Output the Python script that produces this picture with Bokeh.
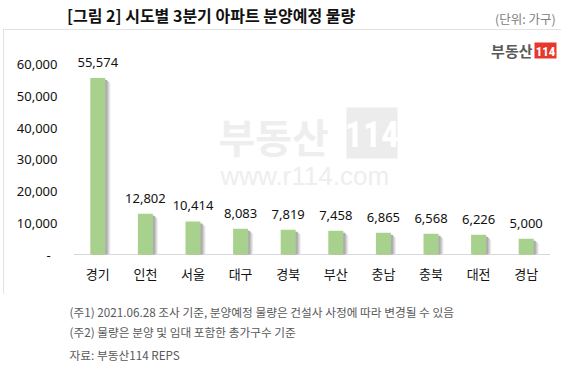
from bokeh.plotting import figure
from bokeh.layouts import column
from bokeh.models import (ColumnDataSource, LabelSet, Label, BoxAnnotation,
                          NumeralTickFormatter, FixedTicker, FactorRange)
from bokeh.core.properties import value
from bokeh.transform import dodge
from bokeh.embed import file_html
from bokeh.resources import INLINE

# ---- data ----
categories = ["경기", "인천", "서울", "대구", "경북", "부산", "충남", "충북", "대전", "경남"]
values = [55574, 12802, 10414, 8083, 7819, 7458, 6865, 6568, 6226, 5000]
value_labels = ["55,574", "12,802", "10,414", "8,083", "7,819", "7,458", "6,865", "6,568", "6,226", "5,000"]
y_ticks = [0, 10000, 20000, 30000, 40000, 50000, 60000]

title_text = "[그림 2] 시도별 3분기 아파트 분양예정 물량"
unit_text = "(단위: 가구)"
notes = ["(주1) 2021.06.28 조사 기준, 분양예정 물량은 건설사 사정에 따라 변경될 수 있음",
         "(주2) 물량은 분양 및 임대 포함한 총가구수 기준",
         "자료: 부동산114 REPS"]

KR = "Noto Sans CJK KR"
NUM = "Noto Sans"


def blank_fig(w, h):
    f = figure(width=w, height=h, x_range=(0, w), y_range=(h, 0),
               output_backend="svg", toolbar_location=None, title=None,
               x_axis_location=None, y_axis_location=None, min_border=0)
    f.background_fill_color = "white"
    f.border_fill_color = "white"
    f.outline_line_color = None
    f.grid.visible = False
    return f


# ---- header ----
head = blank_fig(567, 29)
head.text(x=[5], y=[14], text=[title_text], text_font=value(KR), text_font_style="bold",
          text_font_size="16px", text_color="#111111", text_baseline="middle")
head.text(x=[557], y=[18], text=[unit_text], text_font=value(KR), text_font_size="12.5px",
          text_color="#808080", text_align="right", text_baseline="middle")

# ---- chart ----
CW, CH = 558, 265
px10k = 31.75
src = ColumnDataSource(dict(cat=categories, val=values, lab=value_labels))

xr = FactorRange(*categories, range_padding=0.1785 * 2 / len(categories), range_padding_units="percent")
p = figure(width=CW, height=CH, x_range=xr, y_range=(-10000 / px10k, 221 / px10k * 10000),
           output_backend="svg", toolbar_location=None, title=None,
           min_border_left=62, min_border_right=3, min_border_top=4, min_border_bottom=39,
           margin=(0, 0, 0, 3))
p.styles = {"outline": "1px solid #d9d9d9", "outline-offset": "-1px"}
p.background_fill_color = "white"
p.border_fill_color = "white"
p.outline_line_color = None
p.xgrid.grid_line_color = None
p.ygrid.grid_line_color = None

# watermark
p.add_layout(Label(x=215, y=106, x_units="canvas", y_units="canvas", text="부동산",
                   text_font=KR, text_font_style="bold", text_font_size="40px",
                   text_color="#eeeeee", text_baseline="middle", level="underlay"))
p.add_layout(BoxAnnotation(left=343, right=394, top=78, bottom=129,
                           left_units="canvas", right_units="canvas",
                           top_units="canvas", bottom_units="canvas",
                           fill_color="#ececec", fill_alpha=1, line_color=None, level="underlay"))
p.add_layout(Label(x=368.5, y=104, x_units="canvas", y_units="canvas", text="114",
                   text_font="Roboto Condensed", text_font_style="bold", text_font_size="36px",
                   text_color="white", text_align="center", text_baseline="middle", level="underlay"))
p.add_layout(Label(x=217, y=146, x_units="canvas", y_units="canvas", text="www.r114.com",
                   text_font="Liberation Sans", text_font_size="26px",
                   text_color="#eeeeee", text_baseline="middle", level="underlay"))

# logo
p.add_layout(Label(x=529, y=21, x_units="canvas", y_units="canvas", text="부동산",
                   text_font=KR, text_font_style="bold", text_font_size="15px",
                   text_color="#5a5a5a", text_align="right", text_baseline="middle"))
p.add_layout(BoxAnnotation(left=531, right=553, top=13, bottom=29,
                           left_units="canvas", right_units="canvas",
                           top_units="canvas", bottom_units="canvas",
                           fill_color="#e8382b", fill_alpha=1, line_color=None))
p.add_layout(Label(x=542, y=21.5, x_units="canvas", y_units="canvas", text="114",
                   text_font="Roboto Condensed", text_font_style="bold", text_font_size="13px",
                   text_color="white", text_align="center", text_baseline="middle"))

# baseline
p.line(x=[0, len(categories)], y=[0, 0], line_color="#d9d9d9", line_width=1)

# bars with soft shadow
bw = 15 / 47.6
for off_px, col in [(5, "#ececec"), (4, "#d9d9d9"), (3, "#c4c4c4"), (2, "#adadad")]:
    s = ColumnDataSource(dict(cat=categories, top=[v - off_px / px10k * 10000 for v in values]))
    p.vbar(x=dodge("cat", off_px / 47.6, range=p.x_range), top="top", width=bw,
           source=s, fill_color=col, line_color=None)
p.vbar(x="cat", top="val", width=bw, source=src, fill_color="#a9d18e", line_color=None)

p.add_layout(LabelSet(x="cat", y="val", text="lab", source=src, y_offset=11,
                      text_align="center", text_baseline="alphabetic",
                      text_font=value(NUM), text_font_size="13px", text_color="#111111"))

# axes
ya = p.yaxis[0]
ya.ticker = FixedTicker(ticks=y_ticks)
ya.formatter = NumeralTickFormatter(format="0,0")
ya.major_label_overrides = {0: "-\u00a0\u00a0"}
ya.axis_line_color = None
ya.major_tick_line_color = None
ya.minor_tick_line_color = None
ya.major_tick_out = 0
ya.major_tick_in = 0
ya.major_label_standoff = 8
ya.major_label_text_font = NUM
ya.major_label_text_font_size = "13px"
ya.major_label_text_color = "#111111"

xa = p.xaxis[0]
xa.axis_line_color = None
xa.major_tick_line_color = None
xa.minor_tick_line_color = None
xa.major_tick_out = 0
xa.major_tick_in = 0
xa.major_label_standoff = 8
xa.major_label_text_font = KR
xa.major_label_text_font_size = "13px"
xa.major_label_text_color = "#111111"

# ---- footer ----
foot = blank_fig(567, 79)
foot.text(x=[8, 8, 8], y=[17, 37, 60], text=notes, text_font=value(KR), text_font_size="11.7px",
          text_color="#595959", text_baseline="middle")

layout = column(head, p, foot, spacing=0)
open("out.html", "w").write(file_html(layout, INLINE))
